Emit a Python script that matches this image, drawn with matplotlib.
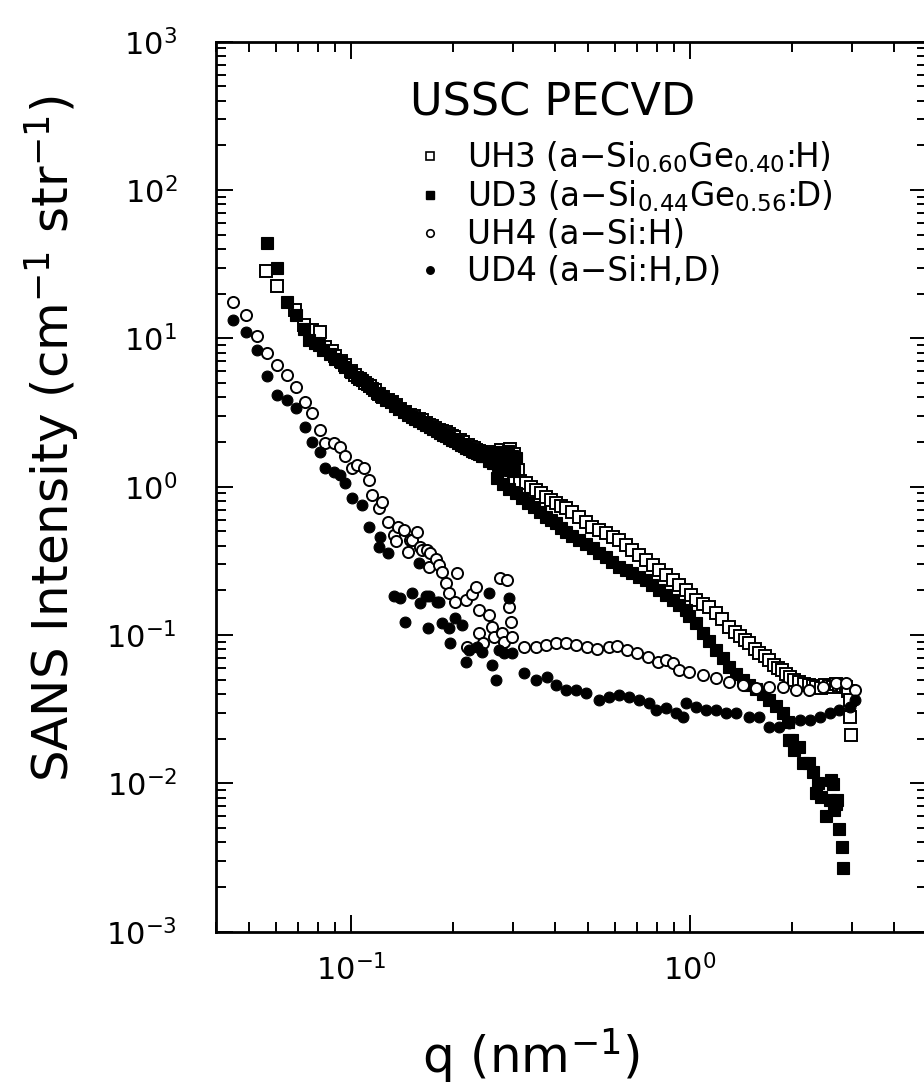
import numpy as np
import matplotlib
matplotlib.use("Agg")
import matplotlib.pyplot as plt
from matplotlib.lines import Line2D
from matplotlib.ticker import LogLocator, NullFormatter

# ---------------- data ----------------
# UH3  (open squares)
uh3_q = [0.0563, 0.0607, 0.0685, 0.0725, 0.0767, 0.0812, 0.0840, 0.0880, 0.0899, 0.0935,
         0.0963, 0.1000, 0.1030, 0.1065, 0.1103, 0.1140, 0.1175, 0.1207, 0.1245, 0.1285,
         0.1322, 0.1360, 0.1400, 0.1448, 0.1490, 0.1530, 0.1585, 0.1625, 0.1665, 0.1700,
         0.1735, 0.1775, 0.1815, 0.1855, 0.1901, 0.1940, 0.1980, 0.2020, 0.2060, 0.2100,
         0.2140, 0.2180, 0.2220, 0.2260, 0.2300, 0.2340, 0.2380, 0.2420, 0.2460, 0.2500,
         0.2540, 0.2580, 0.2620, 0.2660, 0.2700, 0.2740, 0.2780, 0.2820, 0.2860, 0.2900,
         0.2940, 0.2980, 0.3020, 0.3060, 0.3100,
         0.290, 0.302, 0.315, 0.3275, 0.340, 0.3507, 0.363, 0.3754, 0.389, 0.4018,
         0.416, 0.4301, 0.450, 0.4708, 0.493, 0.5155, 0.540, 0.5646, 0.591, 0.6181,
         0.647, 0.6764, 0.708, 0.7413, 0.776, 0.8114, 0.849, 0.8883, 0.930, 0.9731,
         1.005, 1.0416, 1.09, 1.14, 1.19, 1.24, 1.307, 1.36, 1.40, 1.45,
         1.497, 1.55, 1.60, 1.66, 1.715, 1.77, 1.82, 1.87, 1.92, 1.97,
         2.03, 2.10, 2.17, 2.24, 2.30, 2.357, 2.43, 2.50, 2.57, 2.639,
         2.70, 2.76, 2.82, 2.891, 2.93, 2.956, 2.96, 2.99]
uh3_i = [28.5, 22.6, 15.5, 12.3, 11.4, 11.0, 8.8, 8.2, 7.6, 7.0,
         6.6, 6.0, 5.7, 5.3, 5.0, 4.8, 4.5, 4.2, 4.0, 3.85,
         3.7, 3.55, 3.35, 3.2, 3.05, 3.0, 2.85, 2.8, 2.7, 2.6,
         2.55, 2.5, 2.42, 2.38, 2.32, 2.25, 2.2, 2.15, 2.08, 2.05,
         2.0, 1.92, 1.9, 1.86, 1.82, 1.78, 1.75, 1.72, 1.68, 1.66,
         1.70, 1.55, 1.72, 1.50, 1.65, 1.45, 1.78, 1.42, 1.70, 1.38,
         1.80, 1.35, 1.65, 1.33, 1.30,
         1.16, 1.12, 1.09, 1.06, 0.99, 0.951, 0.90, 0.858, 0.815, 0.774,
         0.745, 0.716, 0.67, 0.629, 0.58, 0.538, 0.51, 0.486, 0.46, 0.438,
         0.405, 0.375, 0.348, 0.321, 0.298, 0.275, 0.255, 0.235, 0.218, 0.201,
         0.186, 0.172, 0.163, 0.155, 0.140, 0.128, 0.114, 0.105, 0.098, 0.093,
         0.088, 0.081, 0.076, 0.072, 0.068, 0.063, 0.060, 0.058, 0.055, 0.052,
         0.050, 0.0485, 0.047, 0.046, 0.045, 0.0449, 0.044, 0.046, 0.045, 0.0449,
         0.047, 0.046, 0.045, 0.0449, 0.042, 0.0365, 0.0282, 0.0212]

# UD3  (filled squares)
ud3_q = [0.0567, 0.0607, 0.0647, 0.0688, 0.0727, 0.0750, 0.0785, 0.0803, 0.0830, 0.0865,
         0.0900, 0.0935, 0.0963, 0.1000, 0.1040, 0.1078, 0.1115, 0.1150, 0.1190, 0.1230,
         0.1270, 0.1310, 0.1350, 0.1390, 0.1430, 0.1470, 0.1510, 0.1550, 0.1590, 0.1630,
         0.1670, 0.1710, 0.1750, 0.1790, 0.1830, 0.1870, 0.1910, 0.1950, 0.1990, 0.2030,
         0.2070, 0.2110, 0.2150, 0.2190, 0.2230, 0.2270, 0.2310, 0.2350, 0.2390, 0.2430,
         0.2470, 0.2510, 0.2550, 0.2590, 0.2630, 0.2670, 0.2710, 0.2750, 0.2790, 0.2830,
         0.2870, 0.2910, 0.2950, 0.2990, 0.3030, 0.3070,
         0.270, 0.281, 0.292, 0.306, 0.320, 0.333, 0.347, 0.361, 0.375, 0.389,
         0.402, 0.416, 0.430, 0.450, 0.471, 0.493, 0.516, 0.540, 0.565, 0.590,
         0.618, 0.646, 0.676, 0.708, 0.741, 0.775, 0.811, 0.848, 0.888, 0.930,
         0.973, 0.995, 1.042, 1.090, 1.140, 1.193, 1.248, 1.307, 1.368, 1.431,
         1.497, 1.567, 1.640, 1.715, 1.795, 1.878, 1.94, 1.965, 2.00, 2.03,
         2.10, 2.15, 2.25, 2.30, 2.357, 2.39, 2.44, 2.52, 2.58, 2.60,
         2.64, 2.65, 2.70, 2.71, 2.76, 2.81, 2.83]
ud3_i = [44.0, 30.0, 17.6, 14.4, 11.5, 9.8, 9.3, 9.0, 8.4, 7.9,
         7.3, 6.9, 6.4, 5.9, 5.5, 5.2, 4.9, 4.6, 4.3, 4.1,
         3.85, 3.7, 3.5, 3.35, 3.2, 3.05, 2.95, 2.85, 2.78, 2.7,
         2.62, 2.52, 2.45, 2.38, 2.3, 2.22, 2.2, 2.12, 2.08, 2.02,
         1.98, 1.92, 1.88, 1.82, 1.80, 1.75, 1.72, 1.68, 1.65, 1.62,
         1.60, 1.62, 1.50, 1.68, 1.45, 1.60, 1.40, 1.72, 1.38, 1.65,
         1.35, 1.75, 1.30, 1.62, 1.28, 1.55,
         1.14, 1.05, 0.97, 0.90, 0.837, 0.78, 0.734, 0.68, 0.629, 0.595,
         0.567, 0.53, 0.498, 0.465, 0.438, 0.41, 0.385, 0.36, 0.338, 0.312,
         0.289, 0.275, 0.261, 0.248, 0.235, 0.218, 0.201, 0.186, 0.172, 0.160,
         0.148, 0.135, 0.120, 0.103, 0.091, 0.079, 0.070, 0.061, 0.055, 0.050,
         0.046, 0.043, 0.040, 0.0365, 0.033, 0.030, 0.026, 0.0196, 0.0196, 0.0168,
         0.0177, 0.0137, 0.0137, 0.0119, 0.0086, 0.0101, 0.0081, 0.0060, 0.0077, 0.0105,
         0.0099, 0.0066, 0.0073, 0.0077, 0.0049, 0.0037, 0.0027]

# UH4  (open circles)
uh4_q = [0.0450, 0.0491, 0.0528, 0.0567, 0.0607, 0.0647, 0.0688, 0.0730, 0.0770, 0.0812,
         0.0840, 0.0889, 0.0930, 0.0963, 0.1007, 0.1041, 0.1090, 0.1128, 0.1154, 0.1207,
         0.1234, 0.1287, 0.1337, 0.1362, 0.1375, 0.1430, 0.1478, 0.1498, 0.1515, 0.1567,
         0.1603, 0.1622, 0.1677, 0.1697, 0.1705, 0.1776, 0.1816, 0.1857, 0.1901, 0.1943,
         0.2034, 0.2056, 0.2178, 0.2203, 0.2279, 0.2332, 0.2384, 0.2390, 0.2460, 0.2551,
         0.2610, 0.2641, 0.2750, 0.2795, 0.2826, 0.2887, 0.2924, 0.2958, 0.2990,
         0.3237, 0.3507, 0.3754, 0.4018, 0.4301, 0.4603, 0.4982, 0.5333, 0.5774, 0.6110,
         0.6537, 0.6998, 0.7494, 0.8024, 0.8494, 0.8883, 0.9298, 0.9952, 1.0895, 1.1933,
         1.3067, 1.4307, 1.5668, 1.715, 1.878, 2.057, 2.25, 2.465, 2.70, 2.89, 3.058]
uh4_i = [17.7, 14.4, 10.4, 7.95, 6.63, 5.68, 4.73, 3.75, 3.13, 2.42,
         1.97, 1.97, 1.86, 1.60, 1.33, 1.40, 1.33, 1.11, 0.88, 0.716,
         0.793, 0.582, 0.473, 0.433, 0.538, 0.511, 0.365, 0.438, 0.44, 0.495,
         0.395, 0.375, 0.375, 0.289, 0.356, 0.326, 0.297, 0.268, 0.224, 0.191,
         0.166, 0.261, 0.172, 0.0835, 0.19, 0.212, 0.148, 0.1028, 0.0881, 0.137,
         0.114, 0.0975, 0.242, 0.1028, 0.090, 0.235, 0.155, 0.123, 0.0975,
         0.0835, 0.0835, 0.0857, 0.0881, 0.0881, 0.0857, 0.0835, 0.0802, 0.0835, 0.084,
         0.0793, 0.0754, 0.0715, 0.0662, 0.0679, 0.0645, 0.0581, 0.0566, 0.0538, 0.0511,
         0.0485, 0.0461, 0.0438, 0.0449, 0.0449, 0.0426, 0.0426, 0.0449, 0.0473, 0.0473, 0.0426]

# UD4  (filled circles)
ud4_q = [0.0450, 0.0491, 0.0528, 0.0567, 0.0607, 0.0647, 0.0688, 0.0730, 0.0770, 0.0812,
         0.0840, 0.0889, 0.0930, 0.0963, 0.1007, 0.1078, 0.1128, 0.1207, 0.1220, 0.1286,
         0.1337, 0.1400, 0.1448, 0.1515, 0.1585, 0.1603, 0.1660, 0.1689, 0.1697, 0.1790,
         0.1816, 0.1857, 0.1943, 0.1966, 0.2034, 0.2128, 0.2178, 0.2228, 0.2357, 0.2438,
         0.2551, 0.2610, 0.2671, 0.2732, 0.2826, 0.2924, 0.2990,
         0.3237, 0.3507, 0.3795, 0.4018, 0.4301, 0.4603, 0.4928, 0.5395, 0.5774, 0.6181,
         0.6613, 0.7080, 0.7581, 0.7936, 0.8494, 0.9091, 0.9508, 0.9731, 1.0416, 1.115,
         1.1933, 1.2776, 1.3677, 1.4973, 1.6026, 1.715, 1.836, 1.965, 2.104, 2.2516,
         2.41, 2.58, 2.76, 2.956, 3.058]
ud4_i = [13.3, 11.1, 8.37, 5.61, 4.12, 3.85, 3.38, 2.52, 2.00, 1.71,
         1.33, 1.26, 1.20, 1.06, 0.837, 0.754, 0.538, 0.395, 0.461, 0.359,
         0.182, 0.177, 0.123, 0.191, 0.305, 0.164, 0.182, 0.111, 0.182, 0.168,
         0.168, 0.120, 0.111, 0.0881, 0.130, 0.117, 0.0662, 0.0793, 0.0835, 0.0773,
         0.191, 0.0629, 0.0498, 0.0793, 0.0754, 0.177, 0.0754,
         0.0553, 0.0498, 0.0524, 0.0461, 0.0426, 0.0426, 0.0405, 0.0365, 0.0384, 0.0394,
         0.0384, 0.0365, 0.0347, 0.0313, 0.0321, 0.0297, 0.0282, 0.0347, 0.0329, 0.0313,
         0.0313, 0.0297, 0.0297, 0.0282, 0.0282, 0.0241, 0.0241, 0.0254, 0.0268, 0.0268,
         0.0282, 0.0297, 0.0313, 0.0329, 0.0365]

legend_title = "USSC PECVD"
series_labels = ["UH3 (a\u2212Si$_{0.60}$Ge$_{0.40}$:H)",
                 "UD3 (a\u2212Si$_{0.44}$Ge$_{0.56}$:D)",
                 "UH4 (a\u2212Si:H)",
                 "UD4 (a\u2212Si:H,D)"]
x_label = r"q (nm$^{-1}$)"
y_label = r"SANS Intensity (cm$^{-1}$ str$^{-1}$)"

# ---------------- figure ----------------
plt.rcParams['font.family'] = ['DejaVu Sans']
plt.rcParams['mathtext.default'] = 'regular'

W, H = 924, 1089
fig = plt.figure(figsize=(W / 100, H / 100), dpi=100)
ax = fig.add_axes([216 / W, (H - 931.7) / H, (927 - 216) / W, (931.7 - 41.7) / H])
ax.set_xscale('log')
ax.set_yscale('log')

styles = [dict(marker='s', ms=8.3, mfc='white', mec='black', mew=1.4),
          dict(marker='s', ms=8.3, mfc='black', mec='black', mew=0.8),
          dict(marker='o', ms=8.0, mfc='white', mec='black', mew=1.4),
          dict(marker='o', ms=7.8, mfc='black', mec='black', mew=0.8)]
data = [(uh3_q, uh3_i), (ud3_q, ud3_i), (uh4_q, uh4_i), (ud4_q, ud4_i)]
for (q, i), st in zip(data, styles):
    ax.plot(q, i, ls='none', **st)

ax.set_xlim(0.04, 5)
ax.set_ylim(1e-3, 1e3)

ax.xaxis.set_major_locator(LogLocator(base=10, numticks=20))
ax.yaxis.set_major_locator(LogLocator(base=10, numticks=20))
ax.xaxis.set_minor_locator(LogLocator(base=10, subs=np.arange(2, 10), numticks=20))
ax.yaxis.set_minor_locator(LogLocator(base=10, subs=np.arange(2, 10), numticks=20))
ax.xaxis.set_minor_formatter(NullFormatter())
ax.yaxis.set_minor_formatter(NullFormatter())

ax.tick_params(which='both', direction='in', top=True, right=True, width=1.4, color='black')
ax.tick_params(which='major', length=12, labelsize=22)
ax.tick_params(which='minor', length=7)
ax.tick_params(axis='x', which='major', pad=16)
ax.tick_params(axis='y', which='major', pad=28)
for sp in ax.spines.values():
    sp.set_linewidth(2.0)

# title of the key
fig.text(410 / W, 1 - 115 / H, legend_title, fontsize=32, ha='left', va='baseline')

handles = [Line2D([], [], ls='none', marker='s', ms=5.4, mfc='white', mec='black', mew=1.2),
           Line2D([], [], ls='none', marker='s', ms=5.4, mfc='black', mec='black'),
           Line2D([], [], ls='none', marker='o', ms=5.4, mfc='white', mec='black', mew=1.2),
           Line2D([], [], ls='none', marker='o', ms=5.4, mfc='black', mec='black')]
ax.legend(handles, series_labels, loc='upper left',
          bbox_to_anchor=(418 / W, 1 - 139 / H), bbox_transform=fig.transFigure,
          frameon=False, fontsize=23.5, handlelength=0.75, handletextpad=0.75,
          labelspacing=0.12, borderpad=0, borderaxespad=0)

fig.text(52 / W, 1 - 439 / H, y_label, rotation=90, fontsize=36, ha='center', va='center')
fig.text(531 / W, 16 / H, x_label, fontsize=36, ha='center', va='baseline')

fig.savefig('out.png', dpi=100)
